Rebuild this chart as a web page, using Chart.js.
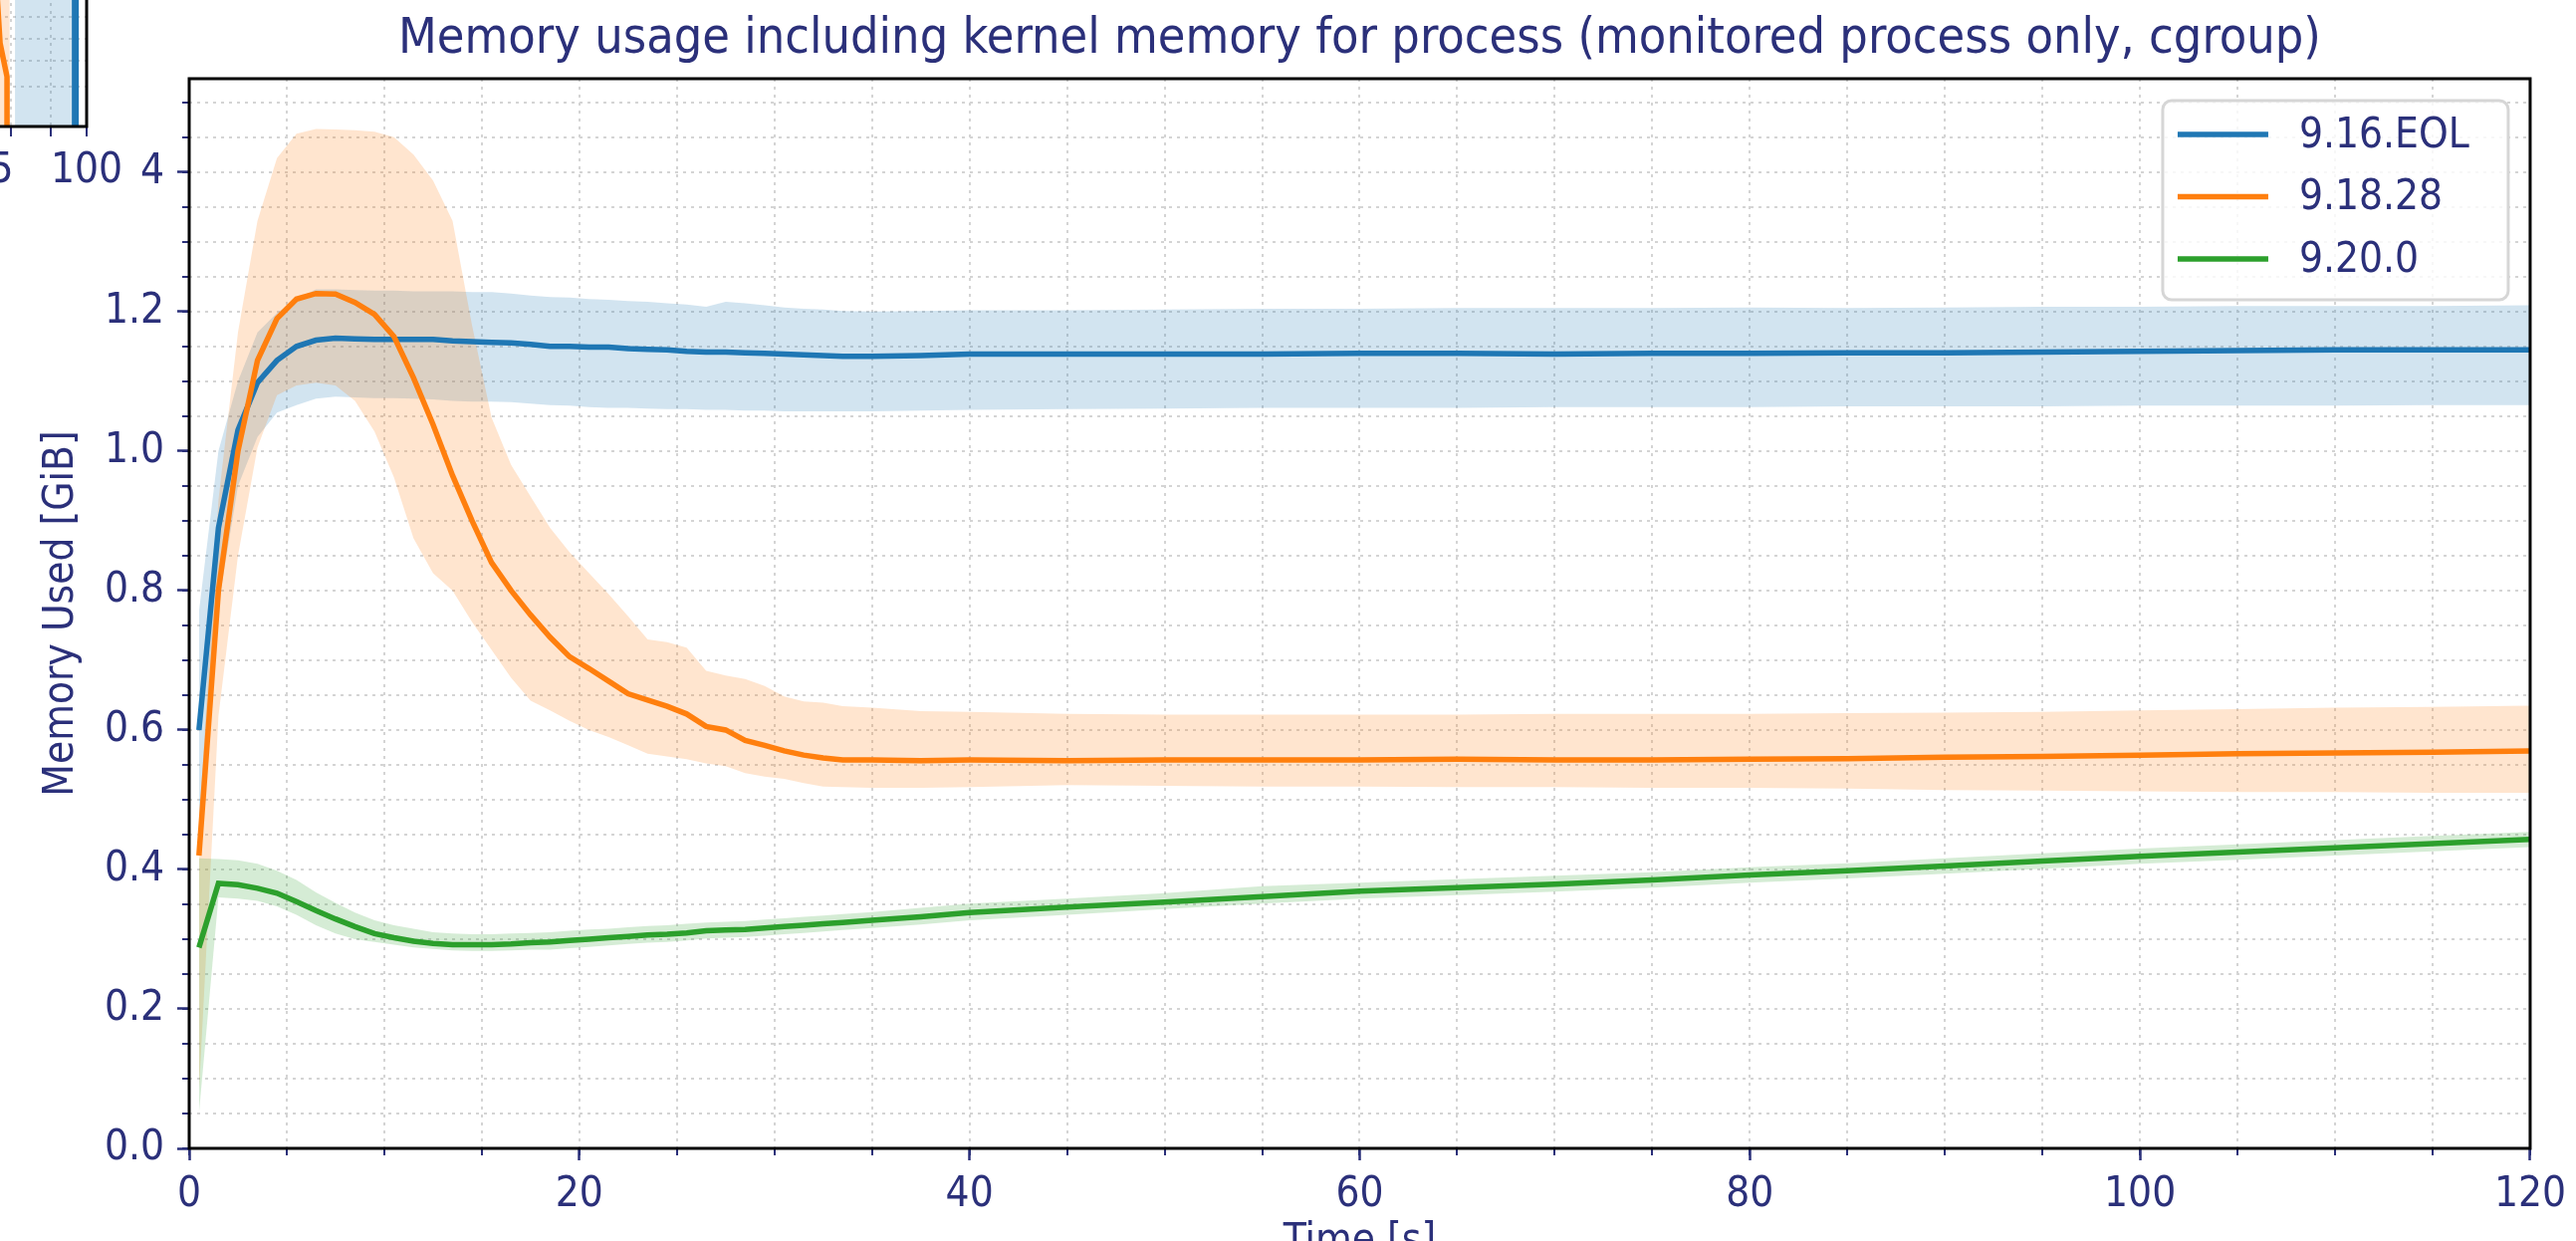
<!DOCTYPE html>
<html>

<head>
   <meta charset="UTF-8">
   <title>Memory usage</title>
   <script src="https://cdn.jsdelivr.net/npm/chart.js@4.4.1/dist/chart.umd.min.js"></script>
   <style>
      html, body { margin: 0; padding: 0; background: #fff; overflow: hidden; }
      #wrap { position: relative; width: 2587px; height: 1246px; overflow: hidden; }
      #mainChart { position: absolute; left: 0; top: 0; }
      #sideChart { position: absolute; left: -459px; top: -93px; }
   </style>
</head>

<body>
   <div id="wrap">
      <canvas id="mainChart" width="2587" height="1300"></canvas>
      <canvas id="sideChart" width="600" height="300"></canvas>
   </div>

   <script>
      // time stamps [s], dense at the start where things move, sparse later
      const times = [0.5, 1.5, 2.5, 3.5, 4.5, 5.5, 6.5, 7.5, 8.5, 9.5,
         10.5, 11.5, 12.5, 13.5, 14.5, 15.5, 16.5, 17.5, 18.5, 19.5,
         20.5, 21.5, 22.5, 23.5, 24.5, 25.5, 26.5, 27.5, 28.5, 29.5,
         30.5, 31.5, 32.5, 33.5,
         35, 37.5, 40, 45, 50, 55, 60, 65, 70, 75, 80, 85, 90, 95, 100, 105, 110, 115, 120];

      const seriesNames = ["9.16.EOL", "9.18.28", "9.20.0"];

      // 9.16.EOL
      const eolMean = [0.600, 0.890, 1.030, 1.098, 1.130, 1.150, 1.159, 1.162, 1.161, 1.160,
         1.160, 1.160, 1.160, 1.158, 1.157, 1.156, 1.155, 1.153, 1.150, 1.150,
         1.149, 1.149, 1.147, 1.146, 1.145, 1.143, 1.142, 1.142, 1.141, 1.140,
         1.139, 1.138, 1.137, 1.136,
         1.136, 1.137, 1.139, 1.139, 1.139, 1.139, 1.140, 1.140, 1.139, 1.140, 1.140, 1.141, 1.141, 1.142, 1.143, 1.144, 1.145, 1.145, 1.145];
      const eolHigh = [0.770, 1.000, 1.100, 1.170, 1.198, 1.218, 1.232, 1.232, 1.231, 1.230,
         1.230, 1.229, 1.229, 1.229, 1.228, 1.228, 1.226, 1.223, 1.221, 1.220,
         1.218, 1.217, 1.215, 1.214, 1.212, 1.210, 1.207, 1.214, 1.212, 1.209,
         1.206, 1.204, 1.203, 1.201,
         1.200, 1.201, 1.202, 1.202, 1.203, 1.204, 1.204, 1.205, 1.205, 1.205, 1.206, 1.205, 1.206, 1.207, 1.207, 1.208, 1.208, 1.208, 1.209];
      const eolLow = [0.430, 0.780, 0.950, 1.020, 1.055, 1.066, 1.075, 1.078, 1.077, 1.076,
         1.076, 1.075, 1.074, 1.072, 1.071, 1.071, 1.070, 1.068, 1.066, 1.065,
         1.063, 1.062, 1.062, 1.061, 1.060, 1.060, 1.059, 1.059, 1.058, 1.058,
         1.057, 1.057, 1.057, 1.057,
         1.057, 1.058, 1.059, 1.060, 1.061, 1.062, 1.062, 1.062, 1.063, 1.063, 1.063, 1.064, 1.064, 1.064, 1.065, 1.065, 1.065, 1.066, 1.066];

      // 9.18.28
      const v918Mean = [0.420, 0.800, 1.000, 1.130, 1.190, 1.218, 1.226, 1.225, 1.213, 1.196,
         1.164, 1.105, 1.038, 0.965, 0.900, 0.840, 0.800, 0.765, 0.733, 0.705,
         0.688, 0.670, 0.652, 0.643, 0.634, 0.623, 0.605, 0.600, 0.585, 0.578,
         0.570, 0.564, 0.560, 0.557,
         0.557, 0.556, 0.557, 0.556, 0.557, 0.557, 0.557, 0.558, 0.557, 0.557, 0.558, 0.559, 0.561, 0.562, 0.564, 0.566, 0.567, 0.568, 0.570];
      const v918High = [0.460, 0.930, 1.170, 1.330, 1.420, 1.455, 1.462, 1.461, 1.460, 1.458,
         1.450, 1.425, 1.388, 1.330, 1.180, 1.048, 0.980, 0.935, 0.890, 0.855,
         0.825, 0.795, 0.763, 0.730, 0.726, 0.718, 0.685, 0.678, 0.673, 0.663,
         0.648, 0.641, 0.639, 0.634,
         0.632, 0.627, 0.626, 0.623, 0.622, 0.622, 0.622, 0.622, 0.623, 0.623, 0.623, 0.624, 0.625, 0.626, 0.628, 0.630, 0.632, 0.633, 0.635];
      const v918Low = [0.080, 0.620, 0.850, 1.005, 1.080, 1.094, 1.098, 1.094, 1.072, 1.028,
         0.962, 0.875, 0.825, 0.800, 0.755, 0.715, 0.675, 0.642, 0.628, 0.613,
         0.600, 0.590, 0.578, 0.566, 0.562, 0.558, 0.552, 0.548, 0.538, 0.533,
         0.530, 0.524, 0.519, 0.518,
         0.517, 0.517, 0.518, 0.521, 0.520, 0.519, 0.519, 0.518, 0.518, 0.517, 0.517, 0.516, 0.514, 0.513, 0.512, 0.511, 0.511, 0.510, 0.510];

      // 9.20.0
      const v920Mean = [0.288, 0.380, 0.378, 0.373, 0.366, 0.354, 0.341, 0.329, 0.318, 0.308,
         0.302, 0.297, 0.294, 0.292, 0.292, 0.292, 0.293, 0.295, 0.296, 0.298,
         0.300, 0.302, 0.304, 0.306, 0.307, 0.309, 0.312, 0.313, 0.314, 0.316,
         0.318, 0.320, 0.322, 0.324,
         0.327, 0.332, 0.338, 0.346, 0.353, 0.361, 0.369, 0.374, 0.379, 0.385, 0.392, 0.398, 0.405, 0.412, 0.419, 0.425, 0.431, 0.437, 0.443];
      const v920High = [0.416, 0.415, 0.413, 0.408, 0.398, 0.385, 0.367, 0.352, 0.338, 0.327,
         0.320, 0.315, 0.310, 0.308, 0.307, 0.307, 0.308, 0.309, 0.310, 0.312,
         0.314, 0.315, 0.317, 0.319, 0.320, 0.322, 0.324, 0.325, 0.326, 0.328,
         0.330, 0.332, 0.334, 0.336,
         0.339, 0.345, 0.351, 0.358, 0.366, 0.376, 0.381, 0.386, 0.391, 0.396, 0.403, 0.409, 0.416, 0.423, 0.430, 0.436, 0.442, 0.448, 0.454];
      const v920Low = [0.050, 0.360, 0.358, 0.355, 0.347, 0.335, 0.320, 0.308, 0.300, 0.296,
         0.292, 0.288, 0.286, 0.284, 0.283, 0.283, 0.284, 0.285, 0.285, 0.287,
         0.289, 0.291, 0.293, 0.295, 0.296, 0.298, 0.301, 0.302, 0.303, 0.305,
         0.307, 0.309, 0.311, 0.313,
         0.316, 0.321, 0.327, 0.335, 0.343, 0.351, 0.358, 0.363, 0.368, 0.374, 0.381, 0.387, 0.394, 0.401, 0.408, 0.414, 0.420, 0.426, 0.432];

      // the neighbouring subplot that pokes into the top left corner
      const sideY = [0, 1];
      const sideOrangeY = [1, 0.38, 0.227, 0];
      const sideOrangeX = [75.5, 77.4, 79.0, 79.0];
      const sideOrangeBandFrom = [40, 40];
      const sideOrangeBandTo = [79.6, 79.6];
      const sideBlueBandFrom = [80.9, 80.9];
      const sideBlueBandTo = [95.7, 95.7];
      const sideBlueX = [96.7, 96.7];
      const sideXTicks = [75, 80, 90, 100];
      const sideXLabels = [75, 100];
      const sideYTicks = [0.18, 0.3, 0.4, 0.5];

      const TITLE = "Memory usage including kernel memory for process (monitored process only, cgroup)";
      const NAVY = "#2b307a";
      const GRID = "#d4d4d4";
      const FONT = '"DejaVu Sans Condensed", "DejaVu Sans", sans-serif';
      const colors = ["#1f77b4", "#ff7f0e", "#2ca02c"];
      const bandColors = ["rgba(31,119,180,0.2)", "rgba(255,127,14,0.2)", "rgba(44,160,44,0.2)"];

      Chart.defaults.font.family = FONT;
      Chart.defaults.color = NAVY;

      const toPoints = ys => times.map((t, i) => ({ x: t, y: ys[i] }));

      const bands = [[eolHigh, eolLow], [v918High, v918Low], [v920High, v920Low]];
      const means = [eolMean, v918Mean, v920Mean];

      const datasets = [];
      // bands first: upper fills down to the following lower one
      bands.forEach(([hi, lo], i) => {
         datasets.push({
            data: toPoints(hi), fill: "+1", backgroundColor: bandColors[i],
            borderWidth: 0, pointRadius: 0, order: 13 - i
         });
         datasets.push({
            data: toPoints(lo), fill: false, borderWidth: 0, pointRadius: 0, order: 13 - i
         });
      });
      means.forEach((m, i) => {
         datasets.push({
            label: seriesNames[i], data: toPoints(m), borderColor: colors[i],
            borderWidth: 5.5, pointRadius: 0, fill: false, order: 3 - i
         });
      });

      // black box round the plot area
      const frame = {
         id: "frame",
         afterDatasetsDraw(chart) {
            const { ctx, chartArea: a } = chart;
            ctx.save();
            ctx.strokeStyle = "#000";
            ctx.lineWidth = 3;
            ctx.strokeRect(a.left, a.top, a.right - a.left, a.bottom - a.top);
            ctx.restore();
         }
      };

      // matplotlib style legend box inside the axes
      const legendBox = {
         id: "legendBox",
         afterDraw(chart, args, opts) {
            const { ctx, chartArea: a } = chart;
            const items = chart.data.datasets.filter(d => d.label);
            const x0 = a.right - opts.right - opts.width;
            const y0 = a.top + opts.top;
            ctx.save();
            ctx.beginPath();
            ctx.roundRect(x0, y0, opts.width, opts.height, 9);
            ctx.fillStyle = "rgba(255,255,255,0.8)";
            ctx.fill();
            ctx.lineWidth = 3;
            ctx.strokeStyle = "#d6d6d6";
            ctx.stroke();
            ctx.font = opts.fontSize + "px " + FONT;
            ctx.textBaseline = "middle";
            items.forEach((d, i) => {
               const y = y0 + opts.firstRow + i * opts.rowGap;
               ctx.strokeStyle = d.borderColor;
               ctx.lineWidth = d.borderWidth;
               ctx.beginPath();
               ctx.moveTo(x0 + 15, y);
               ctx.lineTo(x0 + 106, y);
               ctx.stroke();
               ctx.fillStyle = NAVY;
               ctx.fillText(d.label, x0 + 137, y + 2);
            });
            ctx.restore();
         }
      };

      const whiteBg = {
         id: "whiteBg",
         beforeDraw(chart) {
            const { ctx, width, height } = chart;
            ctx.save();
            ctx.fillStyle = "#fff";
            ctx.fillRect(0, 0, width, height);
            ctx.restore();
         }
      };

      const tickFont = { size: 42 };

      new Chart(document.getElementById("mainChart"), {
         type: "line",
         data: { datasets },
         options: {
            responsive: false,
            animation: false,
            devicePixelRatio: 1,
            layout: { padding: { left: 0, right: 46, top: 0, bottom: 0 } },
            plugins: {
               legend: { display: false },
               tooltip: { enabled: false },
               title: {
                  display: true, fullSize: false, text: TITLE, color: NAVY,
                  font: { size: 50, weight: "normal" },
                  padding: { top: 10, bottom: 9 }
               },
               legendBox: { right: 22, top: 22, width: 347, height: 200, firstRow: 34, rowGap: 62.5, fontSize: 42 }
            },
            scales: {
               xMinor: {
                  type: "linear", position: "bottom", min: 0, max: 120, weight: 0,
                  ticks: { stepSize: 5, display: false, autoSkip: false, includeBounds: false },
                  grid: { color: GRID, lineWidth: 2, tickLength: 7, tickColor: NAVY, tickWidth: 2 },
                  border: { display: false, dash: [3, 5] },
                  afterFit: s => { s.height = 0; }
               },
               x: {
                  type: "linear", position: "bottom", min: 0, max: 120, weight: 1,
                  ticks: { stepSize: 20, autoSkip: false, includeBounds: false, font: tickFont, color: NAVY, padding: 10, maxRotation: 0 },
                  grid: { drawOnChartArea: false, tickLength: 12, tickColor: NAVY, tickWidth: 2.5 },
                  border: { display: false },
                  title: { display: true, text: "Time [s]", color: NAVY, font: tickFont, padding: { top: 0, bottom: 28 } },
                  afterFit: s => { s.height = 147; }
               },
               yMinor: {
                  type: "linear", position: "left", min: 0, max: 1.534, weight: 0,
                  ticks: { stepSize: 0.05, display: false, autoSkip: false, includeBounds: false },
                  grid: { color: GRID, lineWidth: 2, tickLength: 7, tickColor: NAVY, tickWidth: 2 },
                  border: { display: false, dash: [3, 5] },
                  afterFit: s => { s.width = 0; }
               },
               y: {
                  type: "linear", position: "left", min: 0, max: 1.534, weight: 1,
                  ticks: {
                     stepSize: 0.2, autoSkip: false, includeBounds: false, font: tickFont, color: NAVY, padding: 13,
                     callback: v => v.toFixed(1)
                  },
                  grid: { drawOnChartArea: false, tickLength: 12, tickColor: NAVY, tickWidth: 2.5 },
                  border: { display: false },
                  title: { display: true, text: "Memory Used [GiB]", color: NAVY, font: tickFont, padding: { top: 37, bottom: 0 } },
                  afterFit: s => { s.width = 190; }
               }
            }
         },
         plugins: [frame, legendBox]
      });

      // cut-off piece of the neighbouring subplot
      const sideLine = (xs, ys) => ys.map((y, i) => ({ x: xs[i], y }));
      new Chart(document.getElementById("sideChart"), {
         type: "line",
         data: {
            datasets: [
               { data: sideLine(sideOrangeBandFrom, sideY), fill: "+1", backgroundColor: bandColors[1], borderWidth: 0, pointRadius: 0, order: 5 },
               { data: sideLine(sideOrangeBandTo, sideY), fill: false, borderWidth: 0, pointRadius: 0, order: 5 },
               { data: sideLine(sideBlueBandFrom, sideY), fill: "+1", backgroundColor: bandColors[0], borderWidth: 0, pointRadius: 0, order: 4 },
               { data: sideLine(sideBlueBandTo, sideY), fill: false, borderWidth: 0, pointRadius: 0, order: 4 },
               { data: sideLine(sideOrangeX, sideOrangeY), borderColor: colors[1], borderWidth: 5.5, pointRadius: 0, order: 1 },
               { data: sideLine(sideBlueX, sideY), borderColor: colors[0], borderWidth: 7, pointRadius: 0, order: 2 }
            ]
         },
         options: {
            responsive: false,
            animation: false,
            devicePixelRatio: 1,
            indexAxis: "y",
            layout: { padding: { left: 0, right: 54, top: 0, bottom: 0 } },
            plugins: { legend: { display: false }, tooltip: { enabled: false } },
            scales: {
               x: {
                  type: "logarithmic", position: "bottom", min: 20, max: 100,
                  afterBuildTicks: s => { s.ticks = sideXTicks.map(v => ({ value: v })); },
                  ticks: {
                     autoSkip: false, font: tickFont, color: NAVY, padding: 10, maxRotation: 0,
                     callback: v => sideXLabels.includes(v) ? String(v) : ""
                  },
                  grid: { color: GRID, lineWidth: 2, tickLength: 10, tickColor: NAVY, tickWidth: 2 },
                  border: { display: false, dash: [3, 5] },
                  afterFit: s => { s.height = 80; }
               },
               y: {
                  type: "linear", position: "left", min: 0, max: 1,
                  afterBuildTicks: s => { s.ticks = sideYTicks.map(v => ({ value: v })); },
                  ticks: { display: false },
                  grid: { color: GRID, lineWidth: 2, drawTicks: false },
                  border: { display: false, dash: [3, 5] },
                  afterFit: s => { s.width = 0; }
               }
            }
         },
         plugins: [whiteBg, frame]
      });
   </script>
</body>

</html>
